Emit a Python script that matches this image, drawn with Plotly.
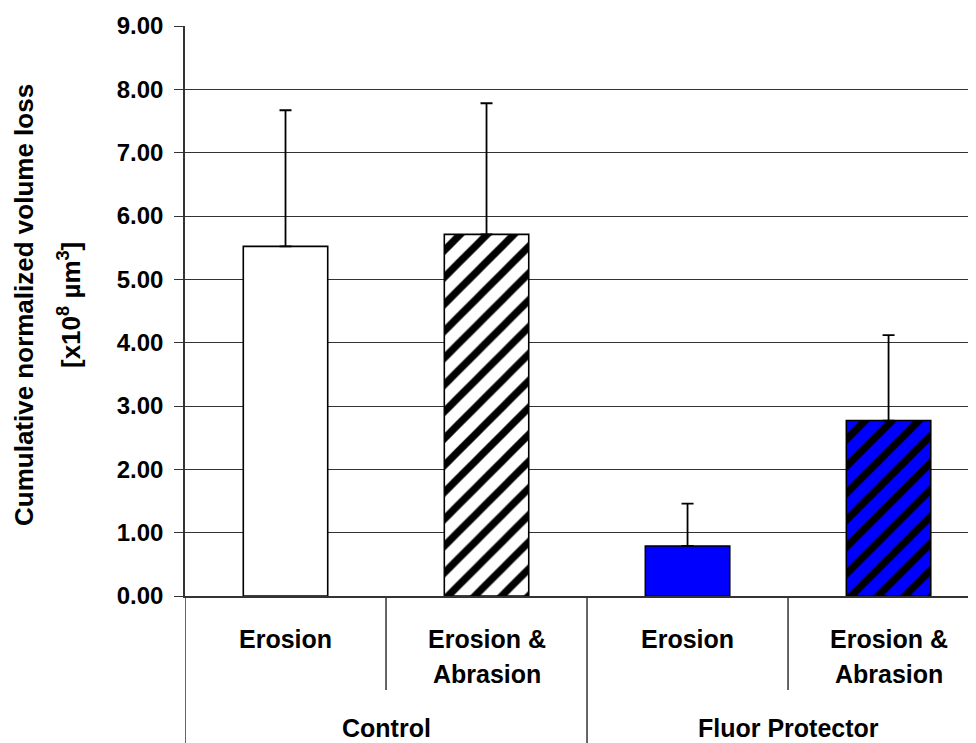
import plotly.graph_objects as go

# ---- data ----
groups = ["Control", "Control", "Fluor Protector", "Fluor Protector"]
treatments = ["Erosion", "Erosion & Abrasion", "Erosion", "Erosion & Abrasion"]
label_lines = [["Erosion"], ["Erosion &", "Abrasion"], ["Erosion"], ["Erosion &", "Abrasion"]]
means = [5.52, 5.71, 0.79, 2.77]
sd_plus = [2.15, 2.07, 0.67, 1.35]
fill_colors = ["#FFFFFF", "#FFFFFF", "#0000FF", "#0000FF"]
hatch = ["", "/", "", "/"]
y_ticks = [0, 1, 2, 3, 4, 5, 6, 7, 8, 9]
group_names = ["Control", "Fluor Protector"]

categories = [g + " | " + t for g, t in zip(groups, treatments)]

FONT = "Liberation Sans, Arial, sans-serif"

# page body has an 8px margin: the figure is offset by (8, 8)
W, H = 968, 735
ML, MT, MB = 177, 18, 147

fig = go.Figure()
for i in range(len(categories)):
    fig.add_trace(go.Bar(
        x=[categories[i]],
        y=[means[i]],
        width=0.42,
        marker=dict(
            color=fill_colors[i],
            line=dict(color="black", width=1.6),
            pattern=dict(shape=hatch[i], fgcolor="black", bgcolor=fill_colors[i],
                         size=19, solidity=0.38, fillmode="replace"),
        ),
        error_y=dict(type="data", array=[sd_plus[i]], arrayminus=[0],
                     symmetric=False, color="black", thickness=1.8, width=6),
        showlegend=False,
    ))

fig.update_layout(
    width=W, height=H,
    margin=dict(l=ML, r=0, t=MT, b=MB),
    paper_bgcolor="white", plot_bgcolor="white",
    font=dict(family=FONT, color="black"),
    barmode="overlay",
)

fig.update_xaxes(
    type="category",
    categoryorder="array", categoryarray=categories,
    range=[-0.5, 3.435],
    showticklabels=False, ticks="",
    showgrid=False, zeroline=False,
    showline=True, linecolor="#333333", linewidth=1.5,
)
fig.update_yaxes(
    range=[0, 9], tickvals=y_ticks, tickformat=".2f",
    ticks="outside", ticklen=9, tickcolor="#333333", tickwidth=1.3,
    tickfont=dict(family=FONT, size=24, color="black", weight="bold"),
    ticklabelstandoff=6,
    showgrid=True, gridcolor="#333333", gridwidth=1,
    zeroline=False,
    showline=True, linecolor="#333333", linewidth=1.5,
)

# dividers below the axis (category boundaries)
plot_h = H - MT - MB
full_depth = -MB / plot_h
inner_depth = -(690 - 596) / plot_h
for xb, depth in [(-0.5, full_depth), (0.5, inner_depth), (1.5, full_depth), (2.5, inner_depth)]:
    fig.add_shape(type="line", xref="x", yref="paper", x0=xb, x1=xb, y0=0, y1=depth,
                  line=dict(color="#333333", width=1.5))

# inner category labels
for i, lines in enumerate(label_lines):
    for j, txt in enumerate(lines):
        fig.add_annotation(x=i, xref="x", y=0, yref="paper", yanchor="middle",
                           yshift=-(43 + 35 * j), text=txt, showarrow=False,
                           font=dict(family=FONT, size=25, color="black", weight="bold"))

# outer group labels
for k, name in enumerate(group_names):
    fig.add_annotation(x=2 * k + 0.5, xref="x", y=0, yref="paper", yanchor="middle",
                       yshift=-132, text=name, showarrow=False,
                       font=dict(family=FONT, size=25, color="black", weight="bold"))

# y axis title (two lines)
fig.add_annotation(x=0, xref="paper", y=0.5, yref="paper", xanchor="center", yanchor="middle",
                   xshift=-161, yshift=6, textangle=-90,
                   text="Cumulative normalized volume loss", showarrow=False,
                   font=dict(family=FONT, size=26, color="black", weight="bold"))
fig.add_annotation(x=0, xref="paper", y=0.5, yref="paper", xanchor="center", yanchor="middle",
                   xshift=-116, yshift=6, textangle=-90,
                   text="[x10<sup>8</sup> µm<sup>3</sup>]", showarrow=False,
                   font=dict(family=FONT, size=26, color="black", weight="bold"))

fig.write_html("out.html")
